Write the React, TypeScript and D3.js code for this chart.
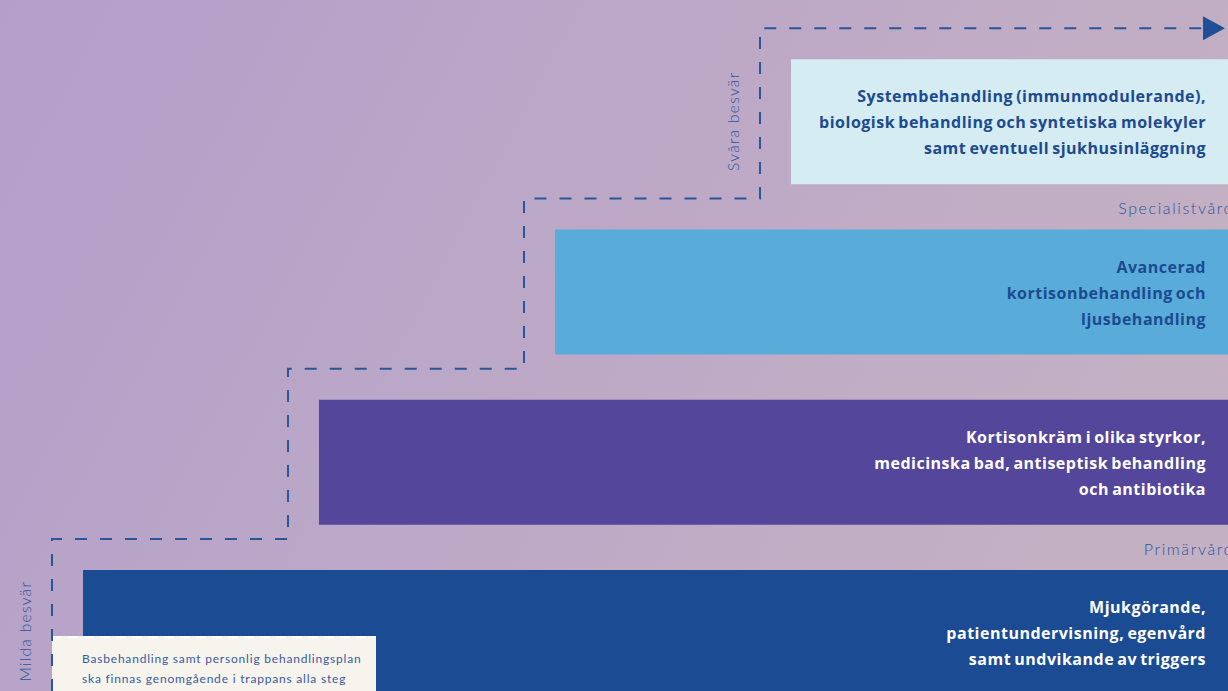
import React from "react";
import * as d3 from "d3";

const W = 1228;
const H = 691;

const stepNames = ["Mild", "Måttlig", "Avancerad", "Svår"];
const stepLines: string[][] = [
  ["Mjukgörande,", "patientundervisning, egenvård", "samt undvikande av triggers"],
  ["Kortisonkräm i olika styrkor,", "medicinska bad, antiseptisk behandling", "och antibiotika"],
  ["Avancerad", "kortisonbehandling och", "ljusbehandling"],
  ["Systembehandling (immunmodulerande),", "biologisk behandling och syntetiska molekyler", "samt eventuell sjukhusinläggning"],
];
const stepFill = ["#1a4b93", "#54469b", "#59acda", "#d5ecf3"];
const stepText = ["#ffffff", "#ffffff", "#1c4a8f", "#1d4a8f"];

const careLabels = [
  { text: "Primärvård", step: 1 },
  { text: "Specialistvård", step: 3 },
];
const severityLabels = [
  { text: "Milda besvär", step: 0 },
  { text: "Svåra besvär", step: 3 },
];
const baseNote = [
  "Basbehandling samt personlig behandlingsplan",
  "ska finnas genomgående i trappans alla steg",
];

export default function App() {
  const idx = d3.range(stepNames.length);
  const x = d3.scaleLinear().domain([0, 4]).range([83, 1027]);
  const y = d3.scaleLinear().domain([0, 4]).range([570, -111]);
  const barH = 125;
  const off = 31;
  const blue = "#2a5599";

  const pts: [number, number][] = [[x(0) - off, H]];
  idx.forEach((i) => {
    pts.push([x(i) - off, y(i) - off]);
    if (i < idx.length - 1) pts.push([x(i + 1) - off, y(i) - off]);
  });
  const last = pts[pts.length - 1];
  pts.push([1203, last[1]]);
  const line = d3.line();

  return (
    <svg
      width={W}
      height={H}
      style={{ position: "fixed", left: 0, top: 0 }}
      fontFamily="'Open Sans', Lato, sans-serif"
    >
      <defs>
        <linearGradient id="bg" x1="0" y1="0" x2="1" y2="0.3">
          <stop offset="0" stopColor="#b39fca" />
          <stop offset="1" stopColor="#c4b0c3" />
        </linearGradient>
      </defs>
      <rect width={W} height={H} fill="url(#bg)" />

      {idx.map((i) => (
        <g key={i}>
          <rect
            x={x(i)}
            y={y(i)}
            width={W - x(i)}
            height={barH}
            fill={stepFill[i]}
          />
          {stepLines[i].map((t, k) => (
            <text
              key={k}
              x={1206}
              y={y(i) + 43 + k * 26}
              textAnchor="end"
              fill={stepText[i]}
              fontSize={16}
              fontWeight={700}
              letterSpacing={0.5}
              wordSpacing={-1.5}
            >
              {t}
            </text>
          ))}
        </g>
      ))}

      <rect x={x(0) - off} y={636} width={324} height={H - 636} fill="#f6f4ec" />
      <line
        x1={x(0) - off}
        x2={x(0) - off + 324}
        y1={637}
        y2={637}
        stroke="#ffffff"
        strokeWidth={2}
        strokeDasharray="10 6"
      />
      {baseNote.map((t, k) => (
        <text
          key={k}
          x={82}
          y={663 + k * 20}
          fill="#3a5aa0"
          fontSize={12}
          fontFamily="Lato, sans-serif"
          letterSpacing={0.8}
        >
          {t}
        </text>
      ))}

      <path
        d={line(pts) || ""}
        fill="none"
        stroke={blue}
        strokeWidth={2}
        strokeDasharray="12 13"
      />
      <path
        d={`M${1203},${last[1] - 12} L${1225},${last[1]} L${1203},${last[1] + 12} Z`}
        fill="#1f4f96"
      />

      {careLabels.map((c) => (
        <text
          key={c.text}
          x={1234}
          y={y(c.step) + barH + 30}
          textAnchor="end"
          fill={blue}
          fontSize={16}
          fontWeight={300}
          fontFamily="Lato, sans-serif"
          letterSpacing={1.6}
        >
          {c.text}
        </text>
      ))}

      {severityLabels.map((s) => {
        const cx = x(s.step) - off - 21;
        const cy = s.step === 0 ? 631 : y(s.step) + 62;
        return (
          <text
            key={s.text}
            transform={`translate(${cx},${cy}) rotate(-90)`}
            textAnchor="middle"
            fill={blue}
            fontSize={15.5}
            fontWeight={300}
            fontFamily="Lato, sans-serif"
            letterSpacing={1.3}
          >
            {s.text}
          </text>
        );
      })}
    </svg>
  );
}
